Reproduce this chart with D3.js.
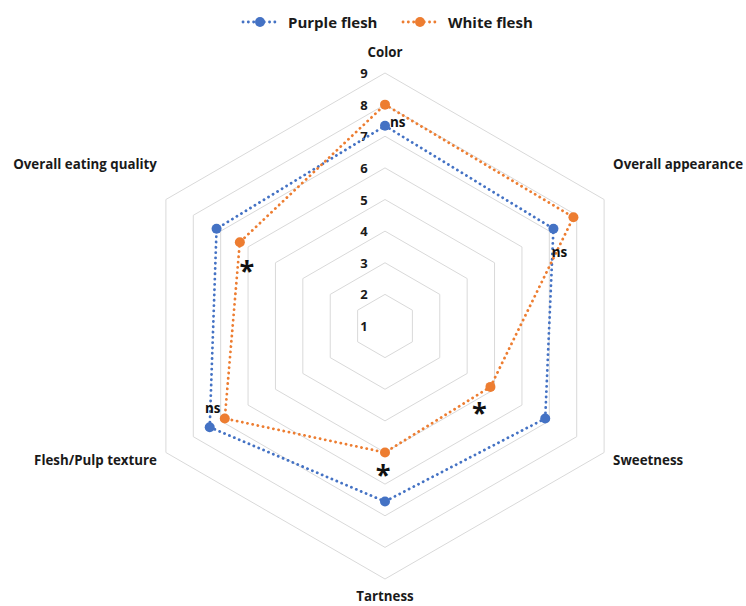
<!DOCTYPE html>
<html>
<head>
<meta charset="utf-8">
<script src="https://cdn.jsdelivr.net/npm/d3@7"></script>
<style>
  html, body { margin: 0; padding: 0; background: #fff; }
  svg { display: block; font-family: "Open Sans", "Noto Sans", sans-serif; }
</style>
</head>
<body>
<svg id="chart" width="746" height="606"></svg>
<script>
// Sensory attributes (one spoke each, clockwise from the top)
const attributes = ["Color", "Overall appearance", "Sweetness", "Tartness", "Flesh/Pulp texture", "Overall eating quality"];

// Mean panel scores per attribute
const purpleFlesh = [7.33, 7.15, 6.85, 6.55, 7.4, 7.15];
const whiteFlesh  = [8.0, 7.88, 4.85, 5.0, 6.85, 6.3];

const seriesNames = ["Purple flesh", "White flesh"];
const seriesColors = ["#4472C4", "#ED7D31"];

// Radial axis ticks
const ticks = [1, 2, 3, 4, 5, 6, 7, 8, 9];

// Significance marks per attribute
const significance = ["ns", "ns", "*", "*", "ns", "*"];

const svg = d3.select("#chart");
const cx = 385, cy = 326;

const r = d3.scaleLinear().domain([1, 9]).range([0, 253]);
const angle = d3.scaleLinear().domain([0, attributes.length]).range([0, 2 * Math.PI]);

function pt(i, v) {
  const a = angle(i);
  return [cx + r(v) * Math.sin(a), cy - r(v) * Math.cos(a)];
}

// Hexagonal gridlines
const grid = svg.append("g");
ticks.slice(1).forEach(t => {
  const pts = attributes.map((_, i) => pt(i, t));
  grid.append("path")
    .attr("d", d3.line().curve(d3.curveLinearClosed)(pts))
    .attr("fill", "none")
    .attr("stroke", "#d9d9d9")
    .attr("stroke-width", 1);
});

// Tick labels along the top spoke
svg.append("g").selectAll("text").data(ticks).join("text")
  .attr("x", cx - 21)
  .attr("y", d => cy - r(d))
  .attr("text-anchor", "middle")
  .attr("dominant-baseline", "central")
  .attr("font-size", 13)
  .attr("font-weight", "bold")
  .attr("fill", "#1a1a1a")
  .text(d => d);

// Category labels
const labelCfg = [
  {anchor: "middle", dx: 0, dy: -21},
  {anchor: "start", dx: 9, dy: -36},
  {anchor: "start", dx: 9, dy: 7},
  {anchor: "middle", dx: 0, dy: 17},
  {anchor: "end", dx: -9, dy: 7},
  {anchor: "end", dx: -9, dy: -36}
];
svg.append("g").selectAll("text").data(attributes).join("text")
  .attr("x", (d, i) => pt(i, 9)[0] + labelCfg[i].dx)
  .attr("y", (d, i) => pt(i, 9)[1] + labelCfg[i].dy)
  .attr("text-anchor", (d, i) => labelCfg[i].anchor)
  .attr("dominant-baseline", "central")
  .attr("font-size", 13.3)
  .attr("font-weight", "bold")
  .attr("fill", "#1a1a1a")
  .text(d => d);

// Series polygons and markers
const data = [purpleFlesh, whiteFlesh];
data.forEach((vals, s) => {
  const pts = vals.map((v, i) => pt(i, v));
  svg.append("path")
    .attr("d", d3.line().curve(d3.curveLinearClosed)(pts))
    .attr("fill", "none")
    .attr("stroke", seriesColors[s])
    .attr("stroke-width", 2.8)
    .attr("stroke-linecap", "round")
    .attr("stroke-dasharray", "0.1 5.2");
  svg.append("g").selectAll("circle").data(pts).join("circle")
    .attr("cx", d => d[0])
    .attr("cy", d => d[1])
    .attr("r", 5)
    .attr("fill", seriesColors[s]);
});

// Significance annotations, placed next to the relevant marker
const annCfg = [
  {s: 0, dx: 5, dy: -4, anchor: "start"},
  {s: 0, dx: 6, dy: 23, anchor: "middle"},
  {s: 1, dx: -11, dy: 18, anchor: "middle"},
  {s: 1, dx: -2, dy: 14, anchor: "middle"},
  {s: 0, dx: 3, dy: -19, anchor: "middle"},
  {s: 1, dx: 7, dy: 20, anchor: "middle"}
];
svg.append("g").selectAll("text").data(significance).join("text")
  .attr("x", (d, i) => pt(i, data[annCfg[i].s][i])[0] + annCfg[i].dx)
  .attr("y", (d, i) => pt(i, data[annCfg[i].s][i])[1] + annCfg[i].dy + (d === "*" ? 7 : 0))
  .attr("text-anchor", (d, i) => annCfg[i].anchor)
  .attr("dominant-baseline", "central")
  .attr("font-size", d => d === "*" ? 27 : 13.5)
  .attr("font-weight", "bold")
  .attr("fill", "#111")
  .text(d => d);

// Legend
const legend = svg.append("g");
const legX = [242, 402];
seriesNames.forEach((name, s) => {
  const g = legend.append("g").attr("transform", `translate(${legX[s]},22)`);
  g.append("line")
    .attr("x1", 1).attr("x2", 36).attr("y1", 0).attr("y2", 0)
    .attr("stroke", seriesColors[s])
    .attr("stroke-width", 2.8)
    .attr("stroke-linecap", "round")
    .attr("stroke-dasharray", "0.1 5.2");
  g.append("circle").attr("cx", 18).attr("cy", 0).attr("r", 5).attr("fill", seriesColors[s]);
  g.append("text")
    .attr("x", 46).attr("y", 0)
    .attr("dominant-baseline", "central")
    .attr("font-size", 15)
    .attr("font-weight", "bold")
    .attr("fill", "#1a1a1a")
    .text(name);
});
</script>
</body>
</html>
